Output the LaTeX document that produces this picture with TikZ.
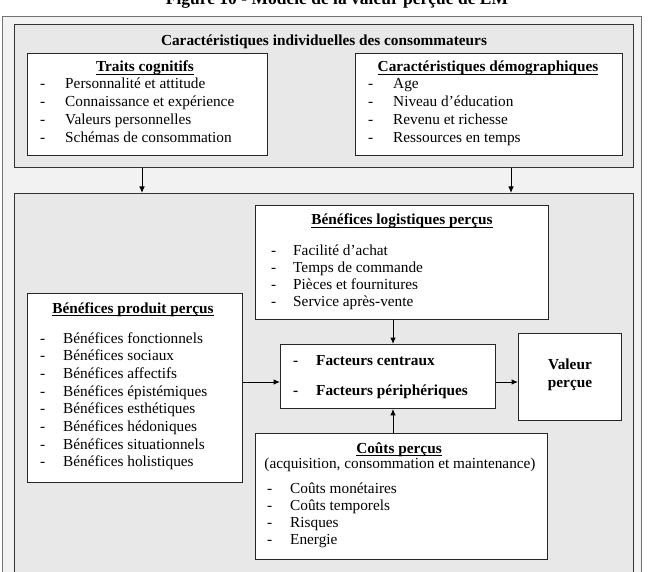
\documentclass[tikz,border=0pt]{standalone}
\usepackage{fontspec}
\setmainfont{Liberation Serif}
\usetikzlibrary{arrows.meta}
\newcommand\itemsize{\fontsize{15.3}{17.7}\selectfont}
\begin{document}
\begin{tikzpicture}[x=1pt,y=-1pt,
  outerbox/.style={draw=black!55, fill=black!5, line width=1.2pt, anchor=north west, inner sep=0pt},
  groupbox/.style={draw=black!80, fill=black!9, line width=1pt, anchor=north west, inner sep=0pt},
  whitebox/.style={draw=black!85, fill=white, line width=0.9pt, anchor=north west, inner sep=0pt},
  txt/.style={inner sep=0pt, font=\itemsize, anchor=base west},
  head/.style={inner sep=0pt, font=\itemsize\bfseries, anchor=base},
  ulline/.style={line width=0.8pt},
  arr/.style={line width=1pt, -{Latex[length=6.5pt,width=5.5pt]}}
]
\useasboundingbox (0,0) rectangle (648,572);
\clip (0,0) rectangle (648,572);
\fill[white] (0,0) rectangle (648,572);

% caption (cut off at the top of the picture)
\node[inner sep=0pt, anchor=base, font=\fontsize{17.5}{20}\selectfont\bfseries] (fig) at (337,4.5) {Figure 10 - Modèle de la valeur perçue de EM};

% frames
\node[outerbox, minimum width=639pt, minimum height=584pt] (outer) at (2,16) {};
\node[groupbox, minimum width=619pt, minimum height=143pt] (top) at (14,24) {};
\node[groupbox, minimum width=619pt, minimum height=407pt] (low) at (14,193) {};

% white boxes
\node[whitebox, minimum width=240pt, minimum height=102pt] (traits) at (27,53) {};
\node[whitebox, minimum width=267pt, minimum height=102pt] (demo) at (355,53) {};
\node[whitebox, minimum width=293pt, minimum height=114pt] (logi) at (255,205) {};
\node[whitebox, minimum width=215pt, minimum height=189pt] (prod) at (27,293) {};
\node[whitebox, minimum width=215pt, minimum height=64pt] (central) at (280,344) {};
\node[whitebox, minimum width=103pt, minimum height=87pt] (valeur) at (518,333) {};
\node[whitebox, minimum width=292pt, minimum height=126pt] (costs) at (255,433) {};

% top group title
\node[head] (toptitle) at (324,46) {Caractéristiques individuelles des consommateurs};

% Traits cognitifs
\node[head] (tth) at (145,72) {Traits cognitifs};
\draw[ulline] ([yshift=-2.6pt]tth.base west) -- ([yshift=-2.6pt]tth.base east);
\foreach \t [count=\i] in {Personnalité et attitude, Connaissance et expérience, Valeurs personnelles, Schémas de consommation}{
  \node[txt] (tcd\i) at (40,{89+17.7*(\i-1)}) {-};
  \node[txt] (tc\i) at (65,{89+17.7*(\i-1)}) {\t};
}

% Caractéristiques démographiques
\node[head] (dmh) at (488,72) {Caractéristiques démographiques};
\draw[ulline] ([yshift=-2.6pt]dmh.base west) -- ([yshift=-2.6pt]dmh.base east);
\foreach \t [count=\i] in {Age, Niveau d’éducation, Revenu et richesse, Ressources en temps}{
  \node[txt] (dmd\i) at (368,{89+17.7*(\i-1)}) {-};
  \node[txt] (dm\i) at (393,{89+17.7*(\i-1)}) {\t};
}

% Bénéfices logistiques perçus
\node[head] (lgh) at (402,225) {Bénéfices logistiques perçus};
\draw[ulline] ([yshift=-2.6pt]lgh.base west) -- ([yshift=-2.6pt]lgh.base east);
\foreach \t [count=\i] in {Facilité d’achat, Temps de commande, Pièces et fournitures, Service après-vente}{
  \node[txt] (lgd\i) at (271,{255+17.2*(\i-1)}) {-};
  \node[txt] (lg\i) at (293,{255+17.2*(\i-1)}) {\t};
}

% Bénéfices produit perçus
\node[head] (pdh) at (133,313) {Bénéfices produit perçus};
\draw[ulline] ([yshift=-2.6pt]pdh.base west) -- ([yshift=-2.6pt]pdh.base east);
\foreach \t [count=\i] in {Bénéfices fonctionnels, Bénéfices sociaux, Bénéfices affectifs, Bénéfices épistémiques, Bénéfices esthétiques, Bénéfices hédoniques, Bénéfices situationnels, Bénéfices holistiques}{
  \node[txt] (pdd\i) at (40,{343+17.7*(\i-1)}) {-};
  \node[txt] (pd\i) at (63,{343+17.7*(\i-1)}) {\t};
}

% Facteurs
\node[txt, font=\itemsize\bfseries] (fcd1) at (293,365) {-};
\node[txt, font=\itemsize\bfseries] (fc1) at (316,365) {Facteurs centraux};
\node[txt, font=\itemsize\bfseries] (fcd2) at (293,395) {-};
\node[txt, font=\itemsize\bfseries] (fc2) at (316,395) {Facteurs périphériques};

% Valeur perçue
\node[head] (vp1) at (570,369) {Valeur};
\node[head] (vp2) at (570,387) {perçue};

% Coûts perçus
\node[head] (csh) at (399,453) {Coûts perçus};
\draw[ulline] ([yshift=-2.6pt]csh.base west) -- ([yshift=-2.6pt]csh.base east);
\node[inner sep=0pt, font=\itemsize, anchor=base] (css) at (400,468.5) {(acquisition, consommation et maintenance)};
\foreach \t [count=\i] in {Coûts monétaires, Coûts temporels, Risques, Energie}{
  \node[txt] (csd\i) at (267,{493.3+17.2*(\i-1)}) {-};
  \node[txt] (cs\i) at (290,{493.3+17.2*(\i-1)}) {\t};
}

% connectors
\coordinate (ax1) at (142,0);
\coordinate (ax2) at (511,0);
\coordinate (axc) at (393,0);
\coordinate (ayc) at (0,382);
\draw[arr] (top.south -| ax1) -- (low.north -| ax1);
\draw[arr] (top.south -| ax2) -- (low.north -| ax2);
\draw[arr] (logi.south -| axc) -- (central.north -| axc);
\draw[arr] (costs.north -| axc) -- (central.south -| axc);
\draw[arr] (prod.east |- ayc) -- (central.west |- ayc);
\draw[arr] (central.east |- ayc) -- (valeur.west |- ayc);
\end{tikzpicture}
\end{document}
